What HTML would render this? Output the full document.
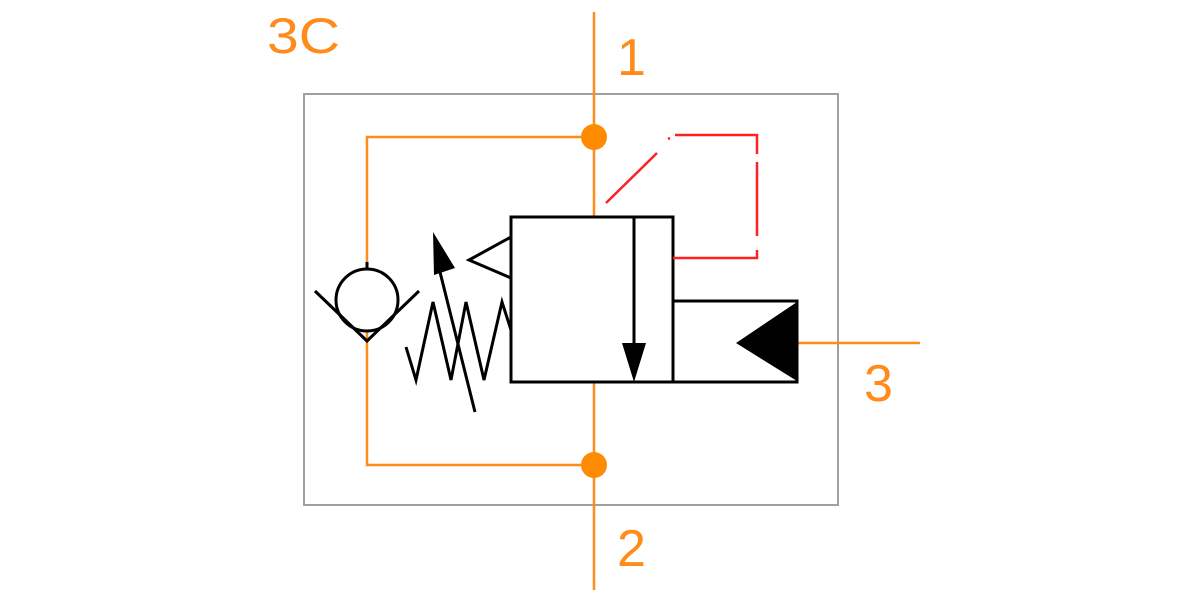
<!DOCTYPE html>
<html><head><style>body{margin:0;background:#fff}svg{display:block}</style></head><body>
<svg width="1200" height="600" viewBox="0 0 1200 600" xmlns="http://www.w3.org/2000/svg">
<rect x="304" y="94" width="534" height="411" fill="none" stroke="#a0a0a0" stroke-width="2"/>
<g stroke="#ff8c1a" stroke-width="2.5" fill="none">
<line x1="594" y1="12" x2="594" y2="217"/>
<line x1="594" y1="382" x2="594" y2="590"/>
<polyline points="594,137 367,137 367,268"/>
<polyline points="367,330 367,465 594,465"/>
<line x1="797" y1="343" x2="920" y2="343"/>
</g>
<circle cx="594" cy="137" r="13" fill="#ff8c00"/>
<circle cx="594" cy="465" r="13" fill="#ff8c00"/>
<g font-family="Liberation Sans, sans-serif" font-size="52" fill="#ff8c1a">
<text x="267" y="53" font-size="50" textLength="73" lengthAdjust="spacingAndGlyphs">3C</text>
<text x="617" y="75">1</text>
<text x="617" y="566">2</text>
<text x="864" y="401">3</text>
</g>
<g stroke="#000" stroke-width="3" fill="none">
<rect x="511" y="217" width="162" height="165"/>
<rect x="673" y="301" width="124" height="81"/>
<line x1="634" y1="217" x2="634" y2="372"/>
<circle cx="367" cy="300" r="31"/>
<polyline points="315,291 367,341 419,291"/>
<line x1="367" y1="262" x2="367" y2="270"/>
<polyline points="511,237 469,260 511,278"/>
<polyline points="406,347 416,380 433,302 451,380 466,302 484,380 502,302 511,330"/>
<line x1="475" y1="412" x2="440" y2="272"/>
</g>
<polygon points="634,382 622,343 646,343" fill="#000"/>
<polygon points="433,232 434,275 455,268" fill="#000"/>
<polygon points="797,302 797,381 736,343" fill="#000"/>
<g stroke="#ff2020" stroke-width="2.5" fill="none">
<line x1="606" y1="203" x2="657" y2="153"/>
<line x1="668" y1="139" x2="670" y2="138"/>
<polyline points="675,135 757,135 757,154"/>
<line x1="757" y1="162" x2="757" y2="236"/>
<polyline points="757,250 757,258 673,258"/>
</g>
</svg>
</body></html>
